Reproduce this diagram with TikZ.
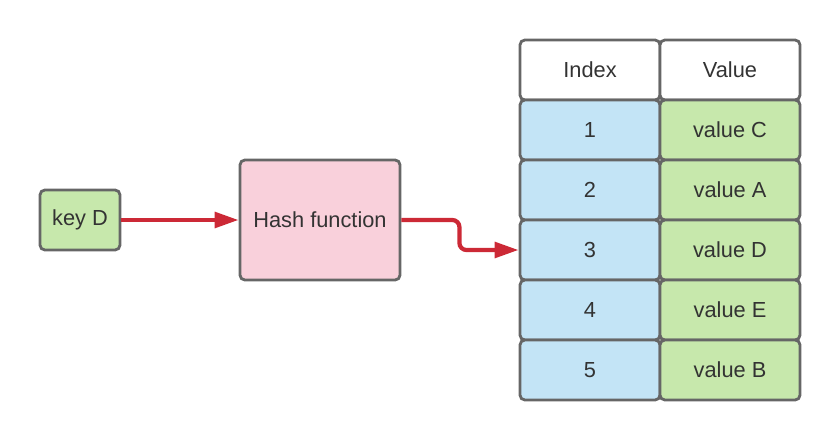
\documentclass[tikz,border=0pt]{standalone}
\usepackage{fontspec}
\setmainfont{Liberation Sans}
\usetikzlibrary{arrows.meta, positioning}
\tikzset{>={Triangle[length=17pt,width=11pt]}}
\definecolor{boxgray}{HTML}{666666}
\definecolor{textgray}{HTML}{333333}
\definecolor{keygreen}{HTML}{C7E8AC}
\definecolor{hashpink}{HTML}{F9D0DB}
\definecolor{idxblue}{HTML}{C3E4F6}
\definecolor{arrowred}{HTML}{CC2936}

\begin{document}
\begin{tikzpicture}[x=0.025cm, y=-0.025cm,
  box/.style={draw=boxgray, line width=2pt, rounded corners=3.5pt, text=textgray, font=\fontsize{15.5}{18}\selectfont},
  cell/.style={box, minimum width=3.5cm, minimum height=1.5cm}]
\useasboundingbox (0,0) rectangle (840,440);

\node[box, fill=keygreen, minimum width=2cm, minimum height=1.5cm] (key) at (80,220) {key D};
\node[box, fill=hashpink, minimum width=4cm, minimum height=3cm] (hash) at (320,220) {Hash function};

% table
\node[cell, fill=white] (idx) at (590,70) {Index};
\node[cell, fill=white] (val) at (730,70) {Value};
\foreach \i/\v in {1/C, 2/A, 3/D, 4/E, 5/B}{
  \node[cell, fill=idxblue] (i\i) at (590,70+60*\i) {\i};
  \node[cell, fill=keygreen] (v\i) at (730,70+60*\i) {value \v};
}

\draw[->, arrowred, line width=3pt] (key) -- (hash);
\draw[->, arrowred, line width=3pt, rounded corners=5pt] (hash.east) -- ++(58,0) |- (i3.west);
\end{tikzpicture}
\end{document}
